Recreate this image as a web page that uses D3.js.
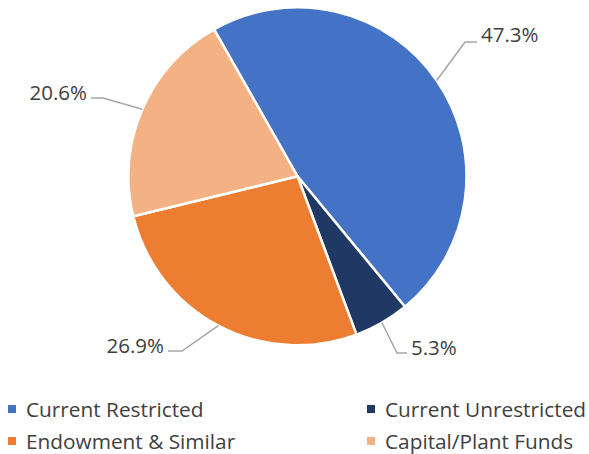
<!DOCTYPE html>
<html>
<head>
<meta charset="utf-8">
<script src="https://cdn.jsdelivr.net/npm/d3@7/dist/d3.min.js"></script>
<style>
  html, body { margin: 0; padding: 0; background: #fff; }
  svg { display: block; }
  text { font-family: "Open Sans", "Noto Sans", sans-serif; fill: #404040; }
</style>
</head>
<body>
<svg id="chart" width="589" height="454"></svg>
<script>
// ---- data ----
const categories = ["Current Restricted", "Current Unrestricted", "Endowment & Similar", "Capital/Plant Funds"];
const values = [47.3, 5.3, 26.9, 20.6];
const labels = ["47.3%", "5.3%", "26.9%", "20.6%"];
const colors = ["#4472C4", "#203864", "#ED7D31", "#F4B183"];

// ---- layout (separate from data) ----
const W = 589, H = 454;
const cx = 297.5, cy = 176.3, R = 169;
const startDeg = -29.6;
// label elbow points, line ends, text anchors
const labelLayout = [
  { elbow: [465, 42], end: [477, 42], text: [481, 42], anchor: "start" },
  { elbow: [397, 353], end: [407, 353], text: [411, 354.5], anchor: "start" },
  { elbow: [182, 351], end: [168, 351], text: [164, 352.5], anchor: "end" },
  { elbow: [103, 98], end: [91, 98], text: [87, 99.5], anchor: "end" }
];
const legendLayout = [
  { x: 8, y: 405 }, { x: 367, y: 405 },
  { x: 8, y: 437 }, { x: 367, y: 437 }
];

const svg = d3.select("#chart");
const start = startDeg * Math.PI / 180;
const pie = d3.pie().sort(null).value(d => d)
  .startAngle(start).endAngle(start + 2 * Math.PI);
const arcs = pie(values);
const arc = d3.arc().innerRadius(0).outerRadius(R);

const g = svg.append("g").attr("transform", `translate(${cx},${cy})`);
g.selectAll("path.slice").data(arcs).enter().append("path")
  .attr("class", "slice")
  .attr("d", arc)
  .attr("fill", (d, i) => colors[i])
  .attr("stroke", "#fff")
  .attr("stroke-width", 2.5)
  .attr("stroke-linejoin", "round");

// leader lines
arcs.forEach((d, i) => {
  const mid = (d.startAngle + d.endAngle) / 2;
  const ax = cx + R * Math.sin(mid);
  const ay = cy - R * Math.cos(mid);
  const L = labelLayout[i];
  svg.append("polyline")
    .attr("points", [[ax, ay], L.elbow, L.end].map(p => p.join(",")).join(" "))
    .attr("fill", "none")
    .attr("stroke", "#A6A6A6")
    .attr("stroke-width", 1.5);
  svg.append("text")
    .attr("x", L.text[0]).attr("y", L.text[1])
    .attr("text-anchor", L.anchor)
    .attr("font-size", 20.5)
    .text(labels[i]);
});

// legend
categories.forEach((c, i) => {
  const p = legendLayout[i];
  svg.append("rect")
    .attr("x", p.x).attr("y", p.y)
    .attr("width", 8).attr("height", 8)
    .attr("fill", colors[i]);
  svg.append("text")
    .attr("x", p.x + 18).attr("y", p.y + 11.5)
    .attr("font-size", 20.8)
    .text(c);
});
</script>
</body>
</html>
